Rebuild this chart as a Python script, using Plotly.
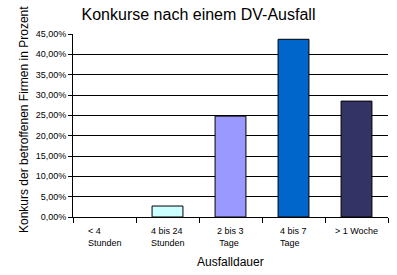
import plotly.graph_objects as go

categories = ["< 4<br>Stunden", "4 bis 24<br>Stunden", "2 bis 3<br> Tage", "4 bis 7<br>Tage", "> 1 Woche"]
values = [0.0, 0.027, 0.248, 0.437, 0.285]
colors = ["#CCFFFF", "#CCFFFF", "#9999FF", "#0066CC", "#333366"]
y_ticks = [0, 0.05, 0.10, 0.15, 0.20, 0.25, 0.30, 0.35, 0.40, 0.45]

font = "Liberation Sans, Arial, sans-serif"
xs = list(range(len(categories)))
line_widths = [0 if v == 0 else 1 for v in values]

fig = go.Figure()
fig.add_trace(go.Bar(
    x=xs, y=values, width=0.49,
    marker=dict(color=colors, line=dict(color="black", width=line_widths)),
    showlegend=False, hoverinfo="skip",
))

for i, lab in enumerate(categories):
    fig.add_annotation(x=i, y=0, xref="x", yref="paper", text=lab, showarrow=False,
                       xanchor="center", yanchor="top", align="left", yshift=-7,
                       font=dict(family=font, size=9, color="black"))

W, H, L, R, T, B = 397, 275, 73, 9, 34, 58
fig.add_annotation(xref="paper", yref="paper", x=(15 - L) / (W - L - R), y=(H - B - 120) / (H - T - B),
                   text="Konkurs der betroffenen Firmen in Prozent",
                   showarrow=False, textangle=-90, font=dict(family=font, size=12, color="black"))
fig.add_annotation(xref="paper", yref="paper", x=0.5, y=(H - B - 262) / (H - T - B), yanchor="middle",
                   text="Ausfalldauer", showarrow=False, font=dict(family=font, size=12, color="black"))

fig.update_layout(
    width=W, height=H,
    margin=dict(l=L, r=R, t=T, b=B),
    paper_bgcolor="white", plot_bgcolor="white",
    separators=",.",
    title=dict(text="Konkurse nach einem DV-Ausfall", x=0.5, xanchor="center", y=1 - 14 / H, yanchor="middle",
               font=dict(family=font, size=16, color="black")),
    xaxis=dict(range=[-0.5, 4.5], tickvals=[-0.5, 0.5, 1.5, 2.5, 3.5, 4.5], ticktext=[""] * 6,
               ticks="outside", ticklen=5, tickcolor="black", showgrid=False,
               showline=True, linecolor="black", linewidth=1, zeroline=False),
    yaxis=dict(range=[0, 0.45], tickvals=y_ticks, tickformat=".2%", ticks="outside", ticklen=4,
               tickcolor="black", showgrid=True, gridcolor="black", gridwidth=1,
               showline=True, linecolor="black", linewidth=1, zeroline=False,
               tickfont=dict(family=font, size=9, color="black")),
)

fig.write_html("out.html")
